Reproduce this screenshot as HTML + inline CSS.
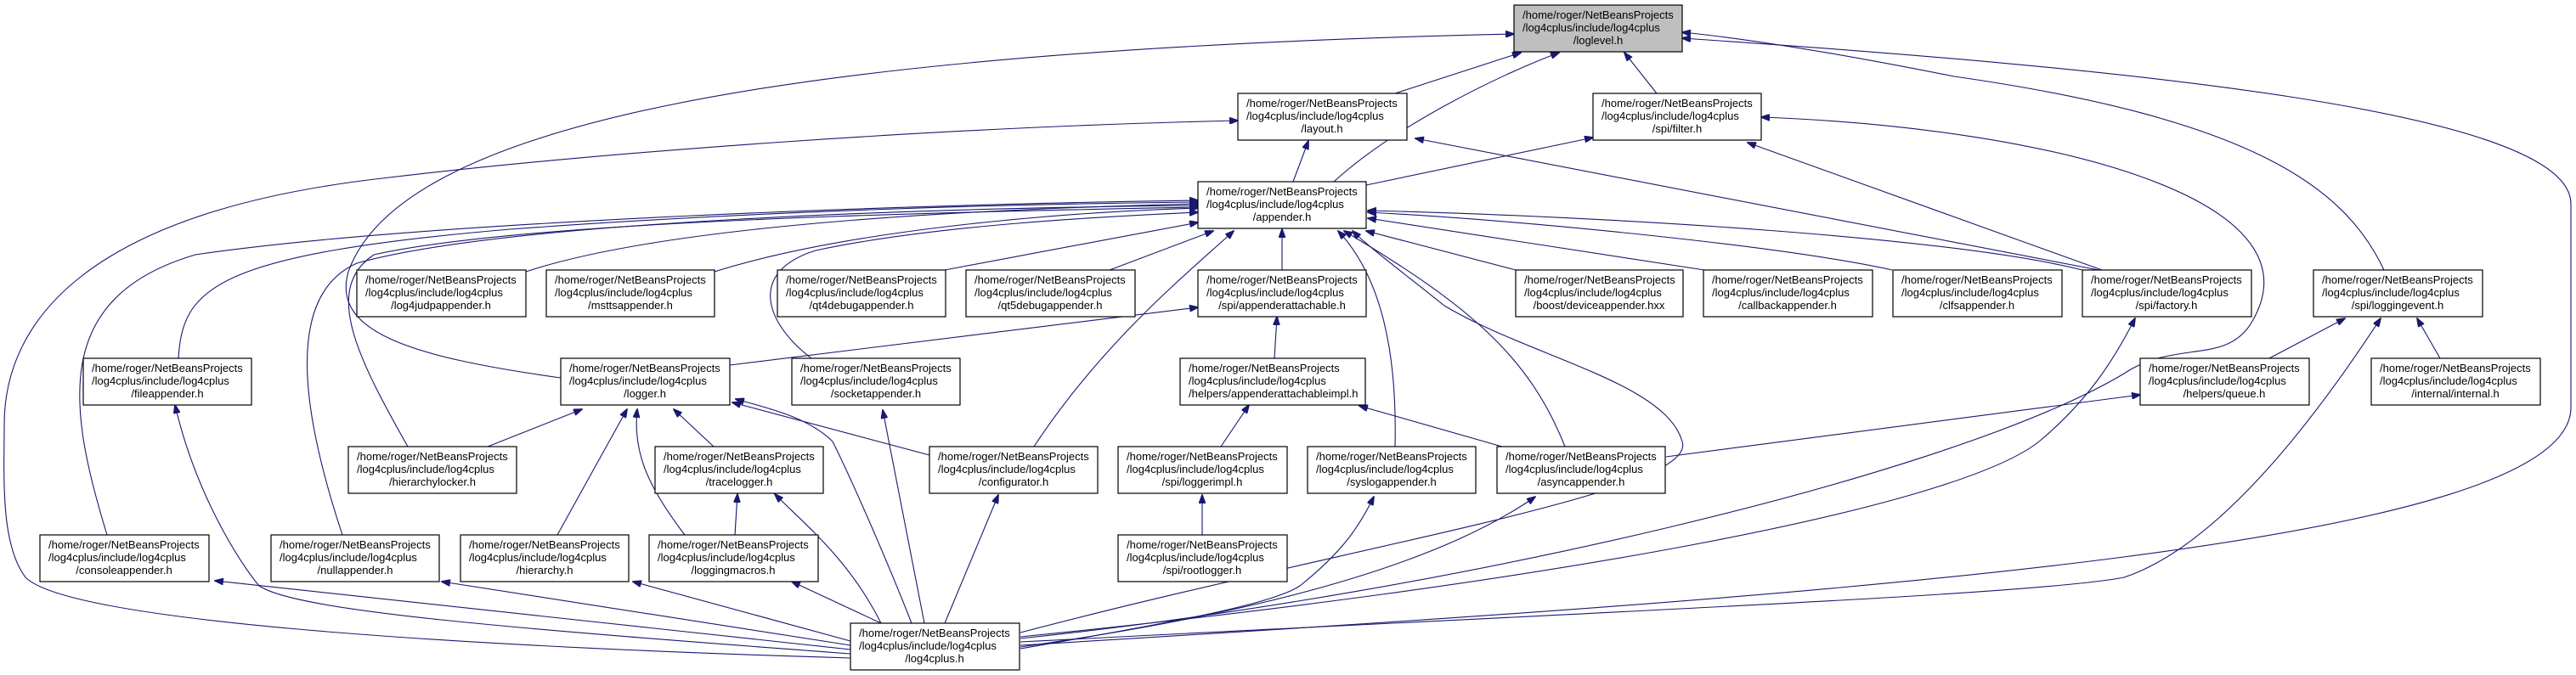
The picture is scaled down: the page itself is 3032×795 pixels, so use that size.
<!DOCTYPE html>
<html><head><meta charset="utf-8"><style>
html,body{margin:0;padding:0;background:#fff;}
svg{display:block;}
text{font-family:"Liberation Sans",Arial,sans-serif;font-size:13px;fill:#000;}
.e{fill:none;stroke:#191970;stroke-width:1.1;marker-end:url(#a);}
.n{fill:#fff;stroke:#000;stroke-width:1.2;}
</style></head><body>
<svg width="3032" height="795" viewBox="0 0 3032 795" xmlns="http://www.w3.org/2000/svg">
<defs><marker id="a" markerWidth="11" markerHeight="8" refX="10" refY="4" orient="auto" markerUnits="userSpaceOnUse"><path d="M0,0 L11,4 L0,8 Z" fill="#191970" stroke="#191970"/></marker></defs>
<g>
<path class="e" d="M1642 110 L1790 62"/>
<path class="e" d="M1570 214 C1640 150 1760 90 1835 62"/>
<path class="e" d="M1950 110 L1912 62"/>
<path class="e" d="M660 445 C480 420 390 390 410 320 C470 150 900 60 1782 40"/>
<path class="e" d="M2806 318 C2760 220 2650 140 2300 90 C2150 60 2050 45 1980 38"/>
<path class="e" d="M1201 760 C2200 700 3026 640 3026 480 L3026 240 C3026 130 2500 80 1980 45"/>
<path class="e" d="M1522 214 L1540 166"/>
<path class="e" d="M1001 775 C500 760 80 730 30 680 C0 640 5 560 5 500 C5 380 100 250 450 210 C700 180 1100 150 1457 142"/>
<path class="e" d="M2470 318 L1666 163"/>
<path class="e" d="M1608 218 L1875 162"/>
<path class="e" d="M2474 318 L2057 168"/>
<path class="e" d="M1201 752 C1700 700 2300 560 2500 440 C2560 400 2620 430 2650 380 C2740 230 2400 150 2073 138"/>
<path class="e" d="M619 320 C800 260 1200 245 1410 240"/>
<path class="e" d="M841 320 C1000 270 1250 250 1410 245"/>
<path class="e" d="M1112 318 L1410 262"/>
<path class="e" d="M1306 318 L1428 272"/>
<path class="e" d="M210 422 C215 340 250 300 600 270 C900 248 1200 240 1410 238"/>
<path class="e" d="M126 630 C80 480 60 350 230 300 C500 260 1100 240 1410 236"/>
<path class="e" d="M403 630 C360 500 330 350 420 310 C600 260 1100 245 1410 242"/>
<path class="e" d="M480 526 C420 420 380 340 440 300 C620 260 1100 250 1410 244"/>
<path class="e" d="M955 422 C900 380 880 320 960 295 C1100 265 1300 255 1410 250"/>
<path class="e" d="M1509 318 L1509 270"/>
<path class="e" d="M1217 526 C1300 400 1400 320 1452 272"/>
<path class="e" d="M1642 526 C1645 400 1620 320 1575 272"/>
<path class="e" d="M1842 526 C1800 420 1730 360 1582 272"/>
<path class="e" d="M1201 745 C1600 640 2000 580 1980 520 C1960 450 1800 420 1700 360 C1650 320 1610 290 1592 272"/>
<path class="e" d="M1784 318 L1608 272"/>
<path class="e" d="M2006 318 L1610 257"/>
<path class="e" d="M2227 318 C2100 290 1800 260 1610 250"/>
<path class="e" d="M2451 318 C2300 280 1900 255 1610 248"/>
<path class="e" d="M1500 422 L1503 373"/>
<path class="e" d="M859 430 L1410 362"/>
<path class="e" d="M574 526 L685 482"/>
<path class="e" d="M656 630 L738 482"/>
<path class="e" d="M806 630 C760 570 745 530 750 482"/>
<path class="e" d="M840 526 L793 482"/>
<path class="e" d="M1094 536 L862 474"/>
<path class="e" d="M1073 734 C1040 650 1000 560 980 520 C950 490 900 480 866 470"/>
<path class="e" d="M865 630 L868 582"/>
<path class="e" d="M1037 734 C1000 660 950 620 912 582"/>
<path class="e" d="M1037 734 L932 685"/>
<path class="e" d="M1001 765 L253 684"/>
<path class="e" d="M1001 760 L520 685"/>
<path class="e" d="M1001 755 L745 685"/>
<path class="e" d="M1001 770 C600 740 350 720 305 690 C280 660 230 580 206 477"/>
<path class="e" d="M1088 734 L1039 483"/>
<path class="e" d="M1112 734 L1175 583"/>
<path class="e" d="M1415 630 L1415 583"/>
<path class="e" d="M1437 526 L1470 477"/>
<path class="e" d="M1768 526 L1600 478"/>
<path class="e" d="M1201 764 C1400 730 1500 710 1530 690 C1580 650 1600 620 1617 585"/>
<path class="e" d="M1201 762 C1500 720 1700 660 1807 585"/>
<path class="e" d="M1961 538 L2519 465"/>
<path class="e" d="M2671 422 L2760 375"/>
<path class="e" d="M2872 422 L2845 375"/>
<path class="e" d="M1201 756 C1900 720 2400 700 2500 680 C2620 640 2740 470 2802 375"/>
<path class="e" d="M1201 750 C1800 690 2300 600 2400 520 C2460 470 2490 420 2513 375"/>
</g>
<g>
<rect x="1782" y="6" width="198" height="55" fill="#bfbfbf" stroke="#000" stroke-width="1.2"/>
<text x="1792" y="22">/home/roger/NetBeansProjects</text><text x="1792" y="37">/log4cplus/include/log4cplus</text><text x="1881" y="52" text-anchor="middle">/loglevel.h</text>

<rect class="n" x="1457" y="110" width="199" height="55"/>
<text x="1467" y="126">/home/roger/NetBeansProjects</text><text x="1467" y="141">/log4cplus/include/log4cplus</text><text x="1556" y="156" text-anchor="middle">/layout.h</text>

<rect class="n" x="1875" y="110" width="198" height="55"/>
<text x="1885" y="126">/home/roger/NetBeansProjects</text><text x="1885" y="141">/log4cplus/include/log4cplus</text><text x="1974" y="156" text-anchor="middle">/spi/filter.h</text>

<rect class="n" x="1410" y="214" width="198" height="55"/>
<text x="1420" y="230">/home/roger/NetBeansProjects</text><text x="1420" y="245">/log4cplus/include/log4cplus</text><text x="1509" y="260" text-anchor="middle">/appender.h</text>

<rect class="n" x="420" y="318" width="199" height="55"/>
<text x="430" y="334">/home/roger/NetBeansProjects</text><text x="430" y="349">/log4cplus/include/log4cplus</text><text x="519" y="364" text-anchor="middle">/log4judpappender.h</text>

<rect class="n" x="643" y="318" width="198" height="55"/>
<text x="653" y="334">/home/roger/NetBeansProjects</text><text x="653" y="349">/log4cplus/include/log4cplus</text><text x="742" y="364" text-anchor="middle">/msttsappender.h</text>

<rect class="n" x="915" y="318" width="198" height="55"/>
<text x="925" y="334">/home/roger/NetBeansProjects</text><text x="925" y="349">/log4cplus/include/log4cplus</text><text x="1014" y="364" text-anchor="middle">/qt4debugappender.h</text>

<rect class="n" x="1137" y="318" width="199" height="55"/>
<text x="1147" y="334">/home/roger/NetBeansProjects</text><text x="1147" y="349">/log4cplus/include/log4cplus</text><text x="1236" y="364" text-anchor="middle">/qt5debugappender.h</text>

<rect class="n" x="1410" y="318" width="198" height="55"/>
<text x="1420" y="334">/home/roger/NetBeansProjects</text><text x="1420" y="349">/log4cplus/include/log4cplus</text><text x="1509" y="364" text-anchor="middle">/spi/appenderattachable.h</text>

<rect class="n" x="1784" y="318" width="197" height="55"/>
<text x="1794" y="334">/home/roger/NetBeansProjects</text><text x="1794" y="349">/log4cplus/include/log4cplus</text><text x="1882" y="364" text-anchor="middle">/boost/deviceappender.hxx</text>

<rect class="n" x="2005" y="318" width="199" height="55"/>
<text x="2015" y="334">/home/roger/NetBeansProjects</text><text x="2015" y="349">/log4cplus/include/log4cplus</text><text x="2104" y="364" text-anchor="middle">/callbackappender.h</text>

<rect class="n" x="2228" y="318" width="199" height="55"/>
<text x="2238" y="334">/home/roger/NetBeansProjects</text><text x="2238" y="349">/log4cplus/include/log4cplus</text><text x="2327" y="364" text-anchor="middle">/clfsappender.h</text>

<rect class="n" x="2451" y="318" width="199" height="55"/>
<text x="2461" y="334">/home/roger/NetBeansProjects</text><text x="2461" y="349">/log4cplus/include/log4cplus</text><text x="2550" y="364" text-anchor="middle">/spi/factory.h</text>

<rect class="n" x="2723" y="318" width="199" height="55"/>
<text x="2733" y="334">/home/roger/NetBeansProjects</text><text x="2733" y="349">/log4cplus/include/log4cplus</text><text x="2822" y="364" text-anchor="middle">/spi/loggingevent.h</text>

<rect class="n" x="98" y="422" width="198" height="55"/>
<text x="108" y="438">/home/roger/NetBeansProjects</text><text x="108" y="453">/log4cplus/include/log4cplus</text><text x="197" y="468" text-anchor="middle">/fileappender.h</text>

<rect class="n" x="660" y="422" width="199" height="55"/>
<text x="670" y="438">/home/roger/NetBeansProjects</text><text x="670" y="453">/log4cplus/include/log4cplus</text><text x="759" y="468" text-anchor="middle">/logger.h</text>

<rect class="n" x="932" y="422" width="198" height="55"/>
<text x="942" y="438">/home/roger/NetBeansProjects</text><text x="942" y="453">/log4cplus/include/log4cplus</text><text x="1031" y="468" text-anchor="middle">/socketappender.h</text>

<rect class="n" x="1389" y="422" width="218" height="55"/>
<text x="1399" y="438">/home/roger/NetBeansProjects</text><text x="1399" y="453">/log4cplus/include/log4cplus</text><text x="1399" y="468">/helpers/appenderattachableimpl.h</text>

<rect class="n" x="2519" y="422" width="199" height="55"/>
<text x="2529" y="438">/home/roger/NetBeansProjects</text><text x="2529" y="453">/log4cplus/include/log4cplus</text><text x="2618" y="468" text-anchor="middle">/helpers/queue.h</text>

<rect class="n" x="2791" y="422" width="199" height="55"/>
<text x="2801" y="438">/home/roger/NetBeansProjects</text><text x="2801" y="453">/log4cplus/include/log4cplus</text><text x="2890" y="468" text-anchor="middle">/internal/internal.h</text>

<rect class="n" x="410" y="526" width="198" height="55"/>
<text x="420" y="542">/home/roger/NetBeansProjects</text><text x="420" y="557">/log4cplus/include/log4cplus</text><text x="509" y="572" text-anchor="middle">/hierarchylocker.h</text>

<rect class="n" x="771" y="526" width="198" height="55"/>
<text x="781" y="542">/home/roger/NetBeansProjects</text><text x="781" y="557">/log4cplus/include/log4cplus</text><text x="870" y="572" text-anchor="middle">/tracelogger.h</text>

<rect class="n" x="1094" y="526" width="198" height="55"/>
<text x="1104" y="542">/home/roger/NetBeansProjects</text><text x="1104" y="557">/log4cplus/include/log4cplus</text><text x="1193" y="572" text-anchor="middle">/configurator.h</text>

<rect class="n" x="1316" y="526" width="199" height="55"/>
<text x="1326" y="542">/home/roger/NetBeansProjects</text><text x="1326" y="557">/log4cplus/include/log4cplus</text><text x="1415" y="572" text-anchor="middle">/spi/loggerimpl.h</text>

<rect class="n" x="1539" y="526" width="198" height="55"/>
<text x="1549" y="542">/home/roger/NetBeansProjects</text><text x="1549" y="557">/log4cplus/include/log4cplus</text><text x="1638" y="572" text-anchor="middle">/syslogappender.h</text>

<rect class="n" x="1762" y="526" width="198" height="55"/>
<text x="1772" y="542">/home/roger/NetBeansProjects</text><text x="1772" y="557">/log4cplus/include/log4cplus</text><text x="1861" y="572" text-anchor="middle">/asyncappender.h</text>

<rect class="n" x="47" y="630" width="199" height="55"/>
<text x="57" y="646">/home/roger/NetBeansProjects</text><text x="57" y="661">/log4cplus/include/log4cplus</text><text x="146" y="676" text-anchor="middle">/consoleappender.h</text>

<rect class="n" x="319" y="630" width="198" height="55"/>
<text x="329" y="646">/home/roger/NetBeansProjects</text><text x="329" y="661">/log4cplus/include/log4cplus</text><text x="418" y="676" text-anchor="middle">/nullappender.h</text>

<rect class="n" x="542" y="630" width="198" height="55"/>
<text x="552" y="646">/home/roger/NetBeansProjects</text><text x="552" y="661">/log4cplus/include/log4cplus</text><text x="641" y="676" text-anchor="middle">/hierarchy.h</text>

<rect class="n" x="764" y="630" width="199" height="55"/>
<text x="774" y="646">/home/roger/NetBeansProjects</text><text x="774" y="661">/log4cplus/include/log4cplus</text><text x="863" y="676" text-anchor="middle">/loggingmacros.h</text>

<rect class="n" x="1316" y="630" width="199" height="55"/>
<text x="1326" y="646">/home/roger/NetBeansProjects</text><text x="1326" y="661">/log4cplus/include/log4cplus</text><text x="1415" y="676" text-anchor="middle">/spi/rootlogger.h</text>

<rect class="n" x="1001" y="734" width="199" height="55"/>
<text x="1011" y="750">/home/roger/NetBeansProjects</text><text x="1011" y="765">/log4cplus/include/log4cplus</text><text x="1100" y="780" text-anchor="middle">/log4cplus.h</text>
</g>
</svg>
</body></html>
